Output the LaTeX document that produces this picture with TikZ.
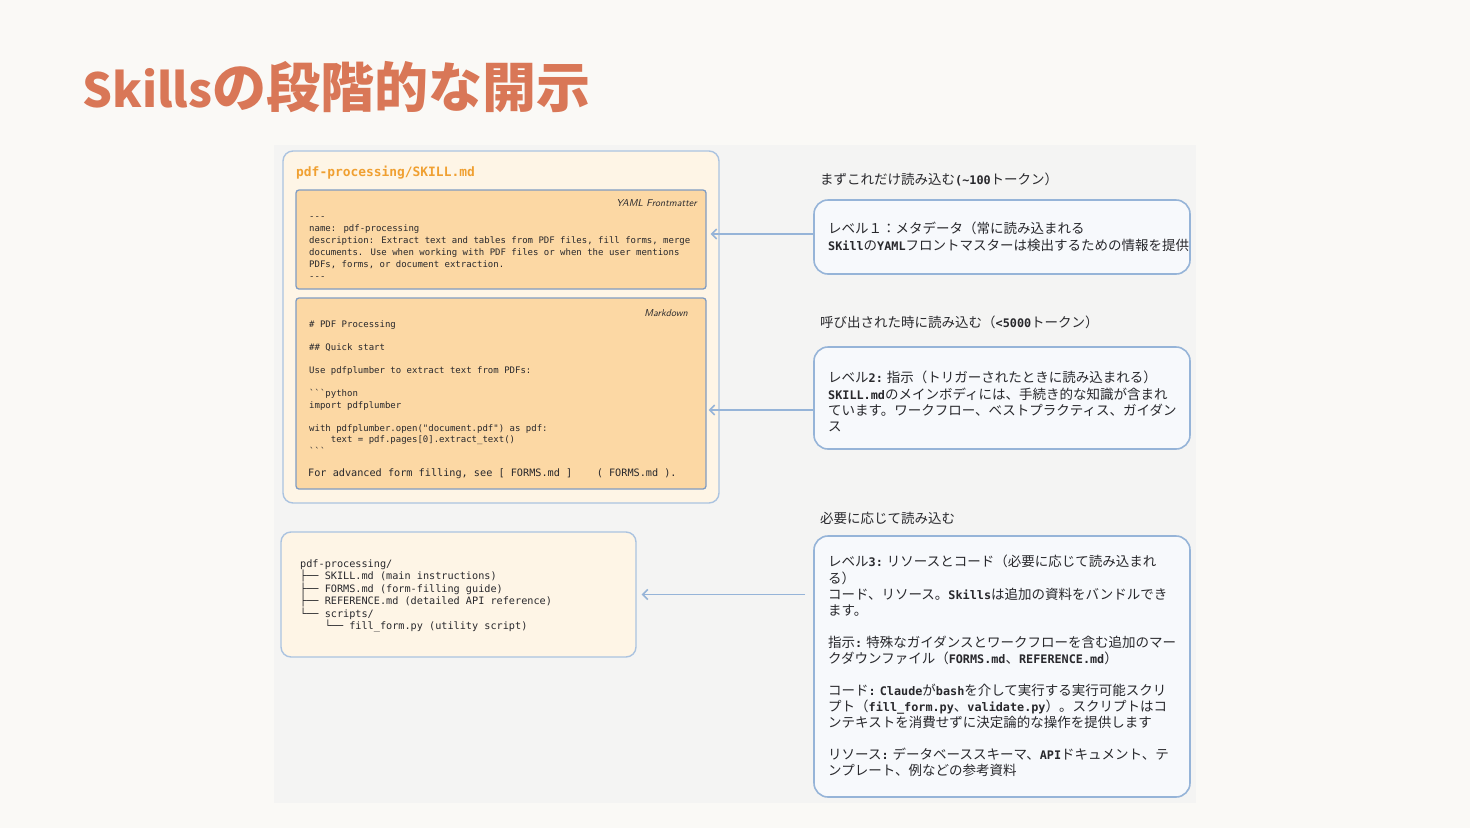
\documentclass[tikz,border=0pt]{standalone}
\usepackage{fontspec}
\usetikzlibrary{arrows.meta,positioning}
\newfontfamily\cjk{Noto Sans CJK JP}
\newfontfamily\codefont{DejaVu Sans Mono}
\definecolor{clay}{RGB}{217,119,87}
\definecolor{paper}{RGB}{250,249,246}
\definecolor{panel}{RGB}{244,244,243}
\definecolor{cream}{RGB}{254,245,230}
\definecolor{peach}{RGB}{252,216,164}
\definecolor{sky}{RGB}{150,180,216}
\definecolor{steel}{RGB}{128,156,194}
\definecolor{amber}{RGB}{240,160,50}
\definecolor{frost}{RGB}{247,249,252}
\definecolor{ink}{RGB}{40,40,44}
\newcommand{\lat}[1]{{\codefont\bfseries\fontsize{11.8}{16}\selectfont #1}}
\tikzset{
  >={Straight Barb[length=5pt,width=10pt]},
  filebox/.style={draw=sky!80,fill=cream,rounded corners=10pt,line width=1.4pt},
  section/.style={draw=steel,fill=peach,rounded corners=3pt,line width=1.3pt},
  levelbox/.style={draw=sky,fill=frost,rounded corners=14pt,line width=1.6pt},
  code/.style={font=\codefont\fontsize{9}{12}\selectfont,text=ink,anchor=base west,inner sep=0pt},
  tree/.style={font=\codefont\fontsize{10.2}{12.5}\selectfont,text=ink,anchor=base west,inner sep=0pt},
  hand/.style={font=\sffamily\itshape\fontsize{10}{12}\selectfont,text=ink,anchor=base east,inner sep=0pt},
  lvcap/.style={font=\cjk\fontsize{13.5}{16}\selectfont,text=ink,anchor=base west,inner sep=0pt},
  note/.style={font=\cjk\fontsize{13.5}{16}\selectfont,text=ink,align=left,anchor=north west,inner sep=0pt},
  arr/.style={->,draw=sky,line width=1.5pt},
}
\begin{document}
\begin{tikzpicture}[x=1pt,y=-1pt]
  \useasboundingbox[fill=paper] (0,0) rectangle (1470,828);
  \fill[panel] (274,145) rectangle (1196,803);
  % title
  \node[font=\cjk\bfseries\fontsize{54}{60}\selectfont,text=clay,anchor=base west,inner sep=0pt] (title) at (82,107)
    {{\fontsize{47}{60}\selectfont Skills}の段階的な開示};
  % SKILL.md
  \node[filebox,minimum width=436pt,minimum height=352pt] (skill) at (501,327) {};
  \node[font=\codefont\bfseries\fontsize{12.9}{15}\selectfont,text=amber,anchor=base west,inner sep=0pt] (skillname) at (296,176) {pdf-processing/SKILL.md};
  \node[section,minimum width=410pt,minimum height=99pt] (yaml) at (501,239.5) {};
  \node[hand] (yamltag) at (697,206) {YAML Frontmatter};
  \foreach \t [count=\i] in {---,name: pdf-processing,
      {description: Extract text and tables from PDF files, fill forms, merge},
      {documents. Use when working with PDF files or when the user mentions},
      {PDFs, forms, or document extraction.},---}
    \node[code] (yaml-\i) at (309,207+12*\i) {\t};
  \node[section,minimum width=410pt,minimum height=191pt] (body) at (501,393.5) {};
  \node[hand] (bodytag) at (688,316) {Markdown};
  \foreach \t [count=\i] in {\# PDF Processing,,\#\# Quick start,,
      Use pdfplumber to extract text from PDFs:,,```python,import pdfplumber,,
      with pdfplumber.open("document.pdf") as pdf:,
      {\ \ \ \ text = pdf.pages[0].extract\_text()},```}
    \node[code] (body-\i) at (309,316+11.5*\i) {\t};
  \node[code,font=\codefont\fontsize{10.2}{12}\selectfont] (bodylink) at (308,476)
    {For advanced form filling, see [ FORMS.md ]\ \ \ \ ( FORMS.md ).};
  % folder tree
  \node[filebox,minimum width=355pt,minimum height=125pt] (tree) at (458.5,594.5) {};
  \foreach \t [count=\i] in {pdf-processing/,
      ├── SKILL.md (main instructions),
      ├── FORMS.md (form-filling guide),
      ├── REFERENCE.md (detailed API reference),
      └── scripts/,
      {\ \ \ \ └── fill\_form.py (utility script)}}
    \node[tree] (tree-\i) at (300,554.5+12.5*\i) {\t};
  % levels
  \node[lvcap] (capone) at (820,184) {まずこれだけ読み込む\lat{(\textasciitilde100}トークン）};
  \node[levelbox,minimum width=376pt,minimum height=74pt] (lvone) at (1002,237) {};
  \node[note] (txtone) at (828,221.5) {\strut レベル１：メタデータ（常に読み込まれる\\
    \lat{SKill}の\lat{YAML}フロントマスターは検出するための情報を提供};
  \node[lvcap] (captwo) at (820,327) {呼び出された時に読み込む（\lat{<5000}トークン）};
  \node[levelbox,minimum width=376pt,minimum height=102pt] (lvtwo) at (1002,398) {};
  \node[note] (txttwo) at (828,370.5) {\strut レベル\lat{2:} 指示（トリガーされたときに読み込まれる）\\
    \lat{SKILL.md}のメインボディには、手続き的な知識が含まれ\\
    ています。ワークフロー、ベストプラクティス、ガイダン\\
    ス};
  \node[lvcap] (capthree) at (820,523) {必要に応じて読み込む};
  \node[levelbox,minimum width=376pt,minimum height=261pt] (lvthree) at (1002,666.5) {};
  \node[note] (txtthree) at (828,554.5) {\strut レベル\lat{3:} リソースとコード（必要に応じて読み込まれ\\
    る）\\
    コード、リソース。\lat{Skills}は追加の資料をバンドルでき\\
    ます。\\[16pt]
    指示\lat{:} 特殊なガイダンスとワークフローを含む追加のマー\\
    クダウンファイル（\lat{FORMS.md}、\lat{REFERENCE.md}）\\[16pt]
    コード\lat{:} \lat{Claude}が\lat{bash}を介して実行する実行可能スクリ\\
    プト（\lat{fill\_form.py}、\lat{validate.py}）。スクリプトはコ\\
    ンテキストを消費せずに決定論的な操作を提供します\\[16pt]
    リソース\lat{:} データベーススキーマ、\lat{API}ドキュメント、テ\\
    ンプレート、例などの参考資料};
  % connectors
  \draw[arr] ([yshift=3pt]lvone.west) -- ([xshift=4pt,yshift=3pt]lvone.west -| yaml.east);
  \draw[arr] ([yshift=-12pt]lvtwo.west) -- ([xshift=2pt,yshift=-12pt]lvtwo.west -| body.east);
  \draw[arr,shorten <=8pt] (lvthree.west |- tree.east) -- ([xshift=5pt]tree.east);
\end{tikzpicture}
\end{document}
